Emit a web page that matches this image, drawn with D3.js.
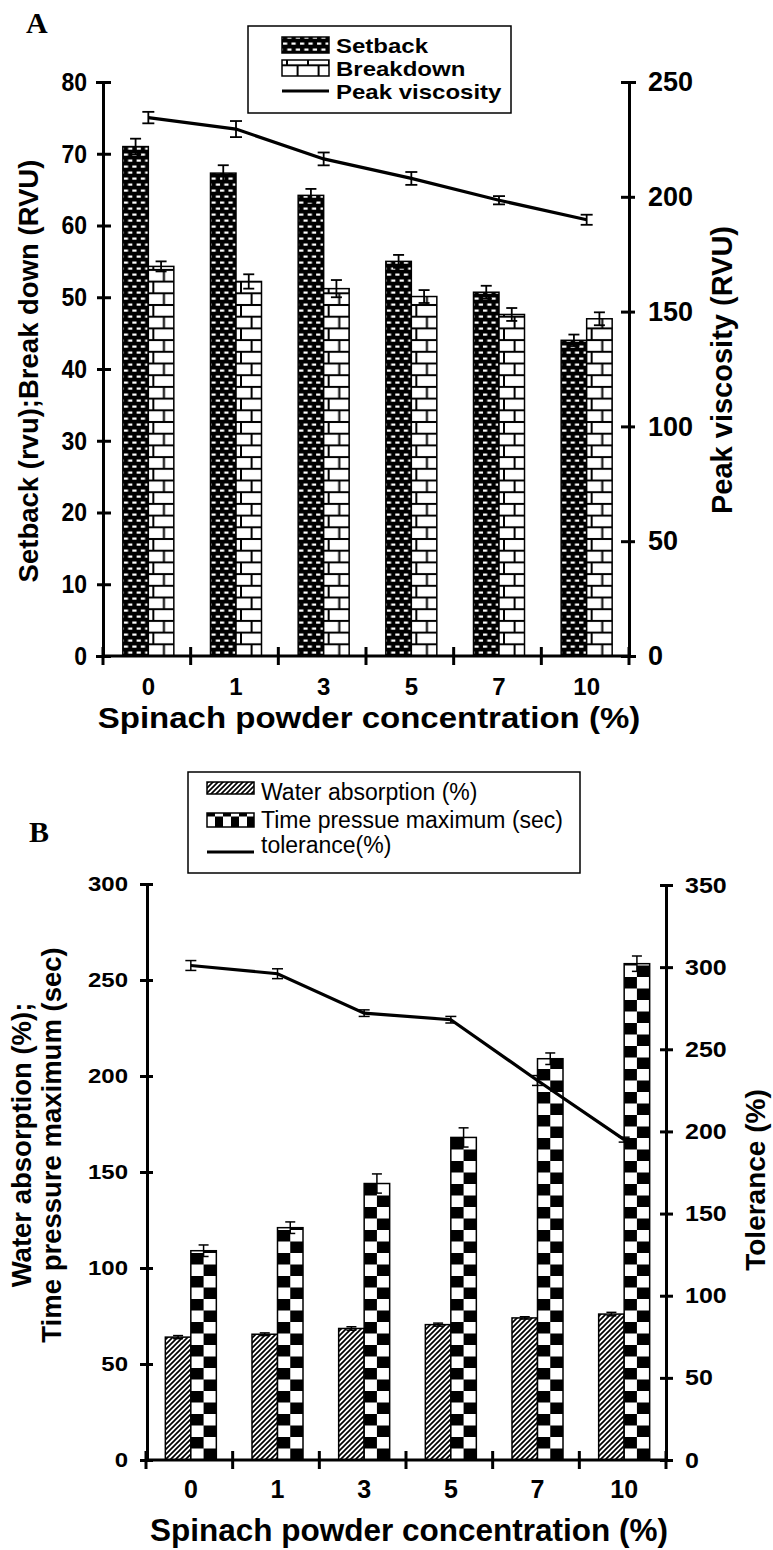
<!DOCTYPE html>
<html>
<head>
<meta charset="utf-8">
<script src="https://cdn.jsdelivr.net/npm/d3@7"></script>
<style>
  body { margin: 0; background: #fff; }
  text { font-family: "Liberation Sans", Arial, sans-serif; }
</style>
</head>
<body>
<svg id="chart" width="773" height="1550"></svg>
<script>
// categories
var conc = ["0", "1", "3", "5", "7", "10"];

// panel A
var setback = [71, 67.3, 64.2, 55, 50.7, 44];
var setbackErr = [1.1, 1.1, 0.9, 0.9, 0.9, 0.8];
var breakdown = [54.3, 52.2, 51.2, 50.1, 47.6, 47];
var breakdownErr = [0.7, 1, 1.2, 0.9, 0.9, 0.9];
var peakVisc = [234.5, 229.5, 216.5, 208, 198.5, 190];
var peakErr = [2.5, 3.5, 2.8, 2.8, 1.8, 2.2];
var ticksAL = [0, 10, 20, 30, 40, 50, 60, 70, 80];
var ticksAR = [0, 50, 100, 150, 200, 250];

// panel B
var water = [64, 65.5, 68.5, 70.5, 74, 76];
var waterErr = [0.8, 0.7, 0.9, 0.8, 0.6, 0.9];
var timeMax = [109, 121, 144, 168, 209, 258.5];
var timeErr = [3, 3, 5, 5, 3, 4];
var tolerance = [301, 296, 272, 268, 231, 195];
var toleranceErr = [3, 3, 2, 2, 3, 1.5];
var ticksBL = [0, 50, 100, 150, 200, 250, 300];
var ticksBR = [0, 50, 100, 150, 200, 250, 300, 350];

var svg = d3.select('#chart');
var defs = svg.append('defs');
var BW = 25.5;

// ---- patterns, one per bar so the tiles line up with the bar edge ----
function setbackPattern(id, x, y) {
  var p = defs.append('pattern').attr('id', id).attr('patternUnits', 'userSpaceOnUse')
    .attr('x', x).attr('y', y).attr('width', 8.5).attr('height', 12);
  p.append('rect').attr('width', 8.5).attr('height', 12).attr('fill', '#000');
  [[1, 1.5], [5.3, 7.5], [-3.2, 7.5]].forEach(function(d) {
    p.append('rect').attr('x', d[0]).attr('y', d[1]).attr('width', 4.2).attr('height', 2.2).attr('fill', '#fff');
  });
}
function brickPattern(id, x, y) {
  var p = defs.append('pattern').attr('id', id).attr('patternUnits', 'userSpaceOnUse')
    .attr('x', x).attr('y', y).attr('width', 21).attr('height', 23.4);
  p.append('rect').attr('width', 21).attr('height', 23.4).attr('fill', '#fff');
  p.append('rect').attr('y', -1).attr('width', 21).attr('height', 2).attr('fill', '#000');
  p.append('rect').attr('y', 10.7).attr('width', 21).attr('height', 2).attr('fill', '#000');
  p.append('rect').attr('y', 22.4).attr('width', 21).attr('height', 2).attr('fill', '#000');
  p.append('rect').attr('x', 4).attr('y', 0).attr('width', 2).attr('height', 11.7).attr('fill', '#000');
  p.append('rect').attr('x', 14.6).attr('y', 11.7).attr('width', 2).attr('height', 11.7).attr('fill', '#000');
}
function checkerPattern(id, x, y, w) {
  var p = defs.append('pattern').attr('id', id).attr('patternUnits', 'userSpaceOnUse')
    .attr('x', x).attr('y', y).attr('width', w).attr('height', 23);
  p.append('rect').attr('width', w).attr('height', 23).attr('fill', '#fff');
  p.append('rect').attr('width', w / 2).attr('height', 11.5).attr('fill', '#000');
  p.append('rect').attr('x', w / 2).attr('y', 11.5).attr('width', w / 2).attr('height', 11.5).attr('fill', '#000');
}
var hatch = defs.append('pattern').attr('id', 'hatch').attr('patternUnits', 'userSpaceOnUse')
  .attr('width', 5).attr('height', 5);
hatch.append('rect').attr('width', 5).attr('height', 5).attr('fill', '#fff');
hatch.append('path').attr('d', 'M0,5 L5,0 M-1,1 L1,-1 M4,6 L6,4')
  .attr('stroke', '#000').attr('stroke-width', 1.7);

// ---- helpers ----
function errorBars(g, xs, vals, errs, scale, cap, sw) {
  var eb = g.append('g').selectAll('g').data(vals).enter().append('g');
  eb.append('line')
    .attr('x1', function(d, i) { return xs[i]; }).attr('x2', function(d, i) { return xs[i]; })
    .attr('y1', function(d, i) { return scale(d + errs[i]); })
    .attr('y2', function(d, i) { return scale(d - errs[i]); })
    .attr('stroke', '#000').attr('stroke-width', sw);
  [1, -1].forEach(function(s) {
    eb.append('line')
      .attr('x1', function(d, i) { return xs[i] - cap / 2; })
      .attr('x2', function(d, i) { return xs[i] + cap / 2; })
      .attr('y1', function(d, i) { return scale(d + s * errs[i]); })
      .attr('y2', function(d, i) { return scale(d + s * errs[i]); })
      .attr('stroke', '#000').attr('stroke-width', sw);
  });
}
function styleAxis(g, size, sy) {
  g.select('.domain').attr('stroke-width', 3).attr('stroke', '#000');
  g.selectAll('.tick line').attr('stroke-width', 3);
  g.selectAll('.tick text').attr('font-size', size).attr('font-weight', 'bold').attr('fill', '#000')
    .attr('transform', 'scale(1,' + sy + ')')
    .style('font-family', '"Liberation Sans", Arial, sans-serif');
}
function crossTicks(g, a, b) {
  // ticks drawn across the axis line
  g.selectAll('.tick line').attr('x1', a).attr('x2', b);
}
function xBoundaryTicks(g, x, y0) {
  var bounds = x.domain().map(function(d) { return x(d); }).concat([x.range()[1]]);
  g.append('g').selectAll('line').data(bounds).enter().append('line')
    .attr('x1', function(d) { return d; }).attr('x2', function(d) { return d; })
    .attr('y1', y0 - 9).attr('y2', y0 + 9)
    .attr('stroke', '#000').attr('stroke-width', 3);
}
function label(g, x, y, txt, size, opts) {
  opts = opts || {};
  var t = g.append('text')
    .attr('transform', 'translate(' + x + ',' + y + ')' + (opts.rot ? ' rotate(-90)' : '') +
      (opts.sy ? ' scale(1,' + opts.sy + ')' : ''))
    .attr('font-size', size).attr('font-weight', opts.weight || 'bold')
    .attr('text-anchor', opts.anchor || 'middle').text(txt);
  if (opts.font) t.style('font-family', opts.font);
  return t;
}

// =================== PANEL A ===================
var xA = d3.scaleBand().domain(conc).range([103, 629]);
var yA = d3.scaleLinear().domain([0, 80]).range([656, 82]);
var yA2 = d3.scaleLinear().domain([0, 250]).range([656, 82]);
var gA = svg.append('g');
var cA = conc.map(function(d) { return xA(d) + xA.bandwidth() / 2 + 1.5; });

conc.forEach(function(d, i) {
  setbackPattern('ps' + i, cA[i] - BW, yA(0));
  brickPattern('pb' + i, cA[i], yA(0));
});

gA.append('g').selectAll('rect').data(setback).enter().append('rect')
  .attr('x', function(d, i) { return cA[i] - BW; })
  .attr('y', function(d) { return yA(d); })
  .attr('width', BW).attr('height', function(d) { return yA(0) - yA(d); })
  .attr('fill', function(d, i) { return 'url(#ps' + i + ')'; })
  .attr('stroke', '#000').attr('stroke-width', 1.5);
gA.append('g').selectAll('rect').data(breakdown).enter().append('rect')
  .attr('x', function(d, i) { return cA[i]; })
  .attr('y', function(d) { return yA(d); })
  .attr('width', BW).attr('height', function(d) { return yA(0) - yA(d); })
  .attr('fill', function(d, i) { return 'url(#pb' + i + ')'; })
  .attr('stroke', '#000').attr('stroke-width', 1.5);

errorBars(gA, cA.map(function(c) { return c - BW / 2; }), setback, setbackErr, yA, 11, 1.8);
errorBars(gA, cA.map(function(c) { return c + BW / 2; }), breakdown, breakdownErr, yA, 11, 1.8);

gA.append('path').datum(peakVisc)
  .attr('fill', 'none').attr('stroke', '#000').attr('stroke-width', 3.2)
  .attr('d', d3.line().x(function(d, i) { return cA[i]; }).y(function(d) { return yA2(d); }));
errorBars(gA, cA, peakVisc, peakErr, yA2, 12, 1.8);

var axAL = gA.append('g').attr('transform', 'translate(103,0)')
  .call(d3.axisLeft(yA).tickValues(ticksAL).tickSizeOuter(0).tickSize(7).tickPadding(9));
crossTicks(axAL, -6, 8);
styleAxis(axAL, 23, 1.15);
var axAR = gA.append('g').attr('transform', 'translate(629,0)')
  .call(d3.axisRight(yA2).tickValues(ticksAR).tickSizeOuter(0).tickSize(7).tickPadding(12));
crossTicks(axAR, -8, 6);
styleAxis(axAR, 27, 1);

gA.append('line').attr('x1', 103).attr('x2', 629).attr('y1', yA(0)).attr('y2', yA(0))
  .attr('stroke', '#000').attr('stroke-width', 3);
xBoundaryTicks(gA, xA, yA(0));
gA.append('g').selectAll('text').data(conc).enter().append('text')
  .attr('x', function(d, i) { return cA[i]; }).attr('y', 695)
  .attr('text-anchor', 'middle').attr('font-size', 24).attr('font-weight', 'bold')
  .text(function(d) { return d; });
label(gA, 369, 728, 'Spinach powder concentration (%)', 33, { sy: 0.9 });
label(gA, 37.5, 371, 'Setback (rvu);Break down (RVU)', 27.5, { rot: true });
label(gA, 732, 370, 'Peak viscosity (RVU)', 29, { rot: true });
label(gA, 26, 33, 'A', 30, { anchor: 'start', font: '"Liberation Serif", "Times New Roman", serif' });

// legend A
var lgA = gA.append('g');
lgA.append('rect').attr('x', 248).attr('y', 26).attr('width', 263).attr('height', 87)
  .attr('fill', '#fff').attr('stroke', '#000').attr('stroke-width', 1.5);
setbackPattern('psl', 282, 53);
brickPattern('pbl', 282, 77);
lgA.append('rect').attr('x', 282).attr('y', 37).attr('width', 47).attr('height', 16)
  .attr('fill', 'url(#psl)').attr('stroke', '#000').attr('stroke-width', 1.5);
lgA.append('rect').attr('x', 282).attr('y', 60).attr('width', 47).attr('height', 16)
  .attr('fill', 'url(#pbl)').attr('stroke', '#000').attr('stroke-width', 1.5);
lgA.append('line').attr('x1', 282).attr('x2', 329).attr('y1', 91).attr('y2', 91)
  .attr('stroke', '#000').attr('stroke-width', 3.2);
[['Setback', 52.5], ['Breakdown', 76], ['Peak viscosity', 99]].forEach(function(d) {
  label(lgA, 336, d[1], d[0], 24, { anchor: 'start', sy: 0.86 });
});

// =================== PANEL B ===================
var xB = d3.scaleBand().domain(conc).range([146, 666]);
var yB = d3.scaleLinear().domain([0, 300]).range([1460, 884]);
var yB2 = d3.scaleLinear().domain([0, 350]).range([1460, 885]);
var gB = svg.append('g');
var cB = conc.map(function(d) { return xB(d) + xB.bandwidth() / 2 + 1.5; });

conc.forEach(function(d, i) {
  checkerPattern('pc' + i, cB[i], yB(0), BW);
});

gB.append('g').selectAll('rect').data(water).enter().append('rect')
  .attr('x', function(d, i) { return cB[i] - BW; })
  .attr('y', function(d) { return yB(d); })
  .attr('width', BW).attr('height', function(d) { return yB(0) - yB(d); })
  .attr('fill', 'url(#hatch)').attr('stroke', '#000').attr('stroke-width', 1.5);
gB.append('g').selectAll('rect').data(timeMax).enter().append('rect')
  .attr('x', function(d, i) { return cB[i]; })
  .attr('y', function(d) { return yB(d); })
  .attr('width', BW).attr('height', function(d) { return yB(0) - yB(d); })
  .attr('fill', function(d, i) { return 'url(#pc' + i + ')'; })
  .attr('stroke', '#000').attr('stroke-width', 1.5);

errorBars(gB, cB.map(function(c) { return c - BW / 2; }), water, waterErr, yB, 10, 1.5);
errorBars(gB, cB.map(function(c) { return c + BW / 2; }), timeMax, timeErr, yB, 10, 1.5);

gB.append('path').datum(tolerance)
  .attr('fill', 'none').attr('stroke', '#000').attr('stroke-width', 3.2)
  .attr('d', d3.line().x(function(d, i) { return cB[i]; }).y(function(d) { return yB2(d); }));
errorBars(gB, cB, tolerance, toleranceErr, yB2, 11, 1.5);

var axBL = gB.append('g').attr('transform', 'translate(147,0)')
  .call(d3.axisLeft(yB).tickValues(ticksBL).tickSizeOuter(0).tickSize(7).tickPadding(12));
crossTicks(axBL, -7, 6);
styleAxis(axBL, 24, 0.82);
var axBR = gB.append('g').attr('transform', 'translate(666,0)')
  .call(d3.axisRight(yB2).tickValues(ticksBR).tickSizeOuter(0).tickSize(7).tickPadding(12));
crossTicks(axBR, -6, 7);
styleAxis(axBR, 25, 0.88);

gB.append('line').attr('x1', 146).attr('x2', 666).attr('y1', yB(0)).attr('y2', yB(0))
  .attr('stroke', '#000').attr('stroke-width', 3);
xBoundaryTicks(gB, xB, yB(0));
gB.append('g').selectAll('text').data(conc).enter().append('text')
  .attr('x', function(d, i) { return cB[i]; }).attr('y', 1498)
  .attr('text-anchor', 'middle').attr('font-size', 25).attr('font-weight', 'bold')
  .text(function(d) { return d; });
label(gB, 409, 1541, 'Spinach powder concentration (%)', 31.5);
label(gB, 31, 1145, 'Water absorption (%);', 27.5, { rot: true });
label(gB, 61, 1145, 'Time pressure maximum (sec)', 27.5, { rot: true });
label(gB, 765, 1180, 'Tolerance (%)', 28, { rot: true });
label(gB, 29, 842, 'B', 30, { anchor: 'start', font: '"Liberation Serif", "Times New Roman", serif' });

// legend B
var lgB = gB.append('g');
lgB.append('rect').attr('x', 188).attr('y', 772).attr('width', 392).attr('height', 101)
  .attr('fill', '#fff').attr('stroke', '#000').attr('stroke-width', 1.5);
checkerPattern('pcl', 207, 828, 16);
lgB.append('rect').attr('x', 207).attr('y', 782).attr('width', 47).attr('height', 12)
  .attr('fill', 'url(#hatch)').attr('stroke', '#000').attr('stroke-width', 1.5);
lgB.append('rect').attr('x', 207).attr('y', 813).attr('width', 47).attr('height', 14)
  .attr('fill', 'url(#pcl)').attr('stroke', '#000').attr('stroke-width', 1.5);
lgB.append('line').attr('x1', 207).attr('x2', 254).attr('y1', 852).attr('y2', 852)
  .attr('stroke', '#000').attr('stroke-width', 3.2);
[['Water absorption (%)', 800], ['Time pressue maximum (sec)', 828], ['tolerance(%)', 853]].forEach(function(d) {
  lgB.append('text').attr('x', 261).attr('y', d[1]).attr('font-size', 23).text(d[0]);
});
</script>
</body>
</html>
